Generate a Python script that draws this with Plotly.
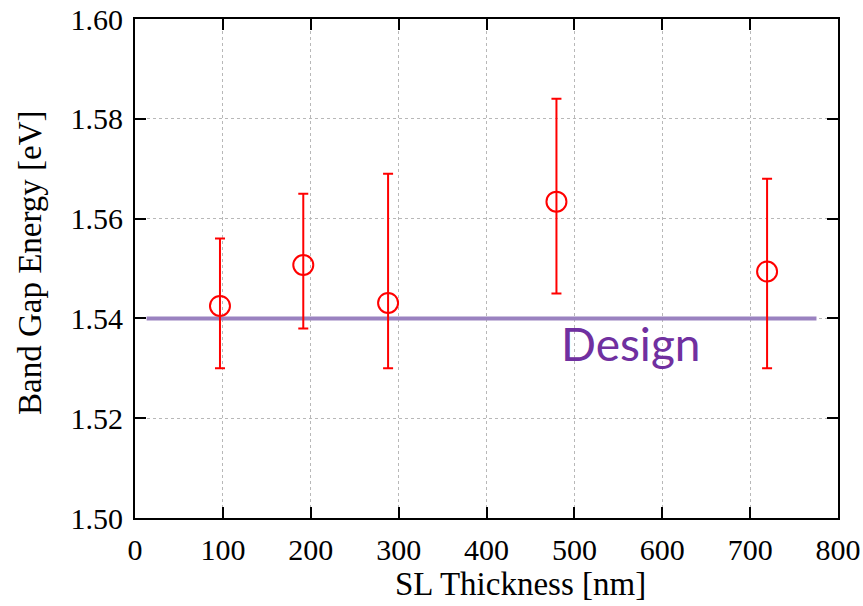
import plotly.graph_objects as go

# Data
thickness = [96.7, 191.5, 288.0, 479.6, 719.3]
band_gap = [1.5425, 1.5507, 1.5431, 1.5634, 1.5494]
err_upper = [1.556, 1.565, 1.569, 1.584, 1.568]
err_lower = [1.530, 1.538, 1.530, 1.545, 1.530]
design_x = [13.2, 775.5]
design_y = [1.54, 1.54]
design_label = "Design"
x_ticks = [0, 100, 200, 300, 400, 500, 600, 700, 800]
y_ticks = [1.50, 1.52, 1.54, 1.56, 1.58, 1.60]

plus = [u - v for u, v in zip(err_upper, band_gap)]
minus = [v - l for v, l in zip(band_gap, err_lower)]

# plot area in pixels
L, R, T, B = 135, 838, 19, 518
W, H = 863, 606

fig = go.Figure()

fig.add_trace(go.Scatter(
    x=design_x, y=design_y, mode="lines",
    line=dict(color="#9a82c0", width=4),
    showlegend=False, hoverinfo="skip",
))

fig.add_trace(go.Scatter(
    x=thickness, y=band_gap, mode="markers",
    marker=dict(symbol="circle-open", size=20, color="#ff0000",
                line=dict(width=2, color="#ff0000")),
    error_y=dict(type="data", symmetric=False, array=plus, arrayminus=minus,
                 color="#ff0000", thickness=2, width=5),
    showlegend=False,
))

serif = "Liberation Serif, Times New Roman, serif"

fig.add_annotation(
    x=564, y=1.5350, xref="x", yref="y", text=design_label, showarrow=False,
    font=dict(family="Lato, sans-serif", size=46, color="#7030a0"),
    xanchor="center", yanchor="middle",
)

fig.add_annotation(
    x=(520 - L) / (R - L), y=-(584 - B) / (B - T), xref="paper", yref="paper",
    text="SL Thickness [nm]", showarrow=False,
    font=dict(family=serif, size=33, color="black"),
    xanchor="center", yanchor="middle",
)

fig.add_annotation(
    x=-(L - 30) / (R - L), y=(B - 262) / (B - T), xref="paper", yref="paper",
    text="Band Gap Energy [eV]", showarrow=False, textangle=-90,
    font=dict(family=serif, size=33, color="black"),
    xanchor="center", yanchor="middle",
)

axis_common = dict(
    showline=True, linecolor="black", linewidth=2, mirror="ticks",
    ticks="inside", ticklen=11, tickwidth=2, tickcolor="black",
    showgrid=True, gridcolor="#b8b8b8", gridwidth=1, griddash="dot",
    zeroline=False, automargin=False,
    tickfont=dict(family=serif, size=30, color="black"),
)

fig.update_xaxes(range=[0, 800], tickvals=x_ticks,
                 ticktext=[str(v) for v in x_ticks], ticklabelstandoff=4,
                 **axis_common)
fig.update_yaxes(range=[1.50, 1.60], tickvals=y_ticks,
                 ticktext=[f"{v:.2f}" for v in y_ticks], ticklabelstandoff=4,
                 **axis_common)

fig.update_layout(
    width=W, height=H,
    margin=dict(l=L, r=W - R, t=T, b=H - B, autoexpand=False),
    paper_bgcolor="white", plot_bgcolor="white",
)

fig.write_html("out.html",
               config={"displayModeBar": False},
               post_script="document.body.style.margin='0';"
                           "document.body.style.overflow='hidden';")
